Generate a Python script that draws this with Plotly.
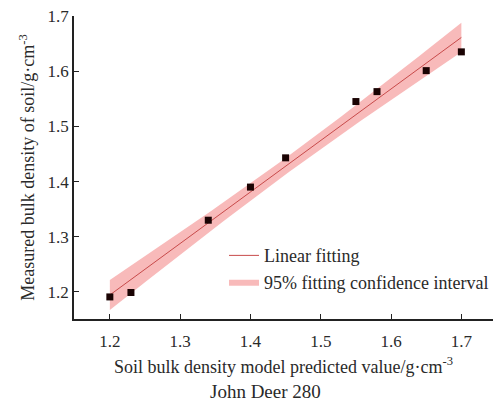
import numpy as np
import plotly.graph_objects as go

predicted = [1.20, 1.23, 1.34, 1.40, 1.45, 1.55, 1.58, 1.65, 1.70]
measured = [1.191, 1.199, 1.330, 1.390, 1.443, 1.545, 1.563, 1.601, 1.635]
x_ticks = [1.2, 1.3, 1.4, 1.5, 1.6, 1.7]
y_ticks = [1.2, 1.3, 1.4, 1.5, 1.6, 1.7]

x = np.array(predicted)
y = np.array(measured)
n = len(x)
slope, intercept = np.polyfit(x, y, 1)
xf = np.linspace(x.min(), x.max(), 60)
yf = slope * xf + intercept
resid = y - (slope * x + intercept)
s = np.sqrt(np.sum(resid ** 2) / (n - 2))
t = 2.365  # t(0.975, df=7)
se = s * np.sqrt(1 / n + (xf - x.mean()) ** 2 / np.sum((x - x.mean()) ** 2))
upper = yf + t * se
lower = yf - t * se

font = "Liberation Serif, Times New Roman, serif"
txt = "#2a2a2a"
fig = go.Figure()
fig.add_trace(go.Scatter(x=np.concatenate([xf, xf[::-1]]), y=np.concatenate([upper, lower[::-1]]),
                         fill="toself", fillcolor="rgba(243,140,140,0.6)", line=dict(width=0),
                         mode="lines", name="95% fitting confidence interval", hoverinfo="skip"))
fig.add_trace(go.Scatter(x=xf, y=yf, mode="lines", line=dict(color="#c84a4a", width=1),
                         name="Linear fitting"))
fig.add_trace(go.Scatter(x=predicted, y=measured, mode="markers",
                         marker=dict(symbol="square", size=7, color="#1a0303"),
                         showlegend=False))

fig.update_layout(
    width=495, height=410, margin=dict(l=74, r=2, t=16, b=91, autoexpand=False),
    plot_bgcolor="white", paper_bgcolor="white",
    font=dict(family=font, size=18, color=txt),
    showlegend=True,
    legend=dict(x=0.358, y=0.27, xanchor="left", yanchor="top", bgcolor="rgba(0,0,0,0)",
                font=dict(size=18, color=txt), traceorder="reversed", tracegroupgap=0),
    xaxis=dict(range=[1.149, 1.745], tickvals=x_ticks, ticktext=[f"{v:.1f}" for v in x_ticks],
               tickfont=dict(size=17, color=txt), ticklabelstandoff=6,
               ticks="inside", ticklen=5, tickcolor="#222", showline=True, linecolor="#222",
               linewidth=1.5, showgrid=False, zeroline=False,
               title=dict(text="Soil bulk density model predicted value/g·cm<sup>-3</sup>",
                          font=dict(size=18, color=txt), standoff=10)),
    yaxis=dict(range=[1.151, 1.7], tickvals=y_ticks, ticktext=[f"{v:.1f}" for v in y_ticks],
               tickfont=dict(size=17, color=txt),
               ticks="inside", ticklen=5, tickcolor="#222", showline=True, linecolor="#222",
               linewidth=1.5, showgrid=False, zeroline=False,
               title=dict(text="Measured bulk density of soil/g·cm<sup>-3</sup>",
                          font=dict(size=18, color=txt), standoff=8)),
    annotations=[dict(text="John Deer 280", x=0.456, y=-0.24, xref="paper", yref="paper",
                      showarrow=False, font=dict(size=19, color=txt), xanchor="center", yanchor="middle")],
)
fig.write_html("out.html")
